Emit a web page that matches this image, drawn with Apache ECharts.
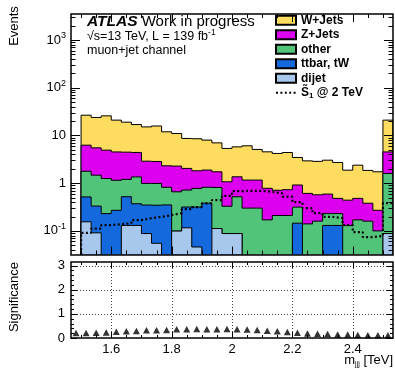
<!DOCTYPE html>
<html>
<head>
<meta charset="utf-8">
<script src="https://cdn.jsdelivr.net/npm/echarts@6/dist/echarts.min.js"></script>
<style>
  html, body { margin: 0; padding: 0; background: #fff; }
  #chart { width: 395px; height: 368px; }
</style>
</head>
<body>
<div id="chart"></div>
<script>
// Binning of the trijet invariant mass, m_jjj [TeV]
const X_MIN = 1.6 - 4 / 30;
const BIN_W = 1 / 30;
const N_BINS = 32;
const X_MAX = X_MIN + N_BINS * BIN_W;

// Events axis range (log)
const Y_MIN = 0.032;
const Y_MAX = 3500;

// Background yields per bin
const wjets = [0, 20.3, 18.3, 20.8, 16.4, 14.5, 12.5, 12.2, 12.9, 9.6, 8.7, 6.6, 6.7, 6.1, 5.25, 4.27,
               4.4, 4.9, 3.93, 3.75, 3.48, 3.66, 2.54, 2.32, 2.29, 2.44, 2.23, 1.43, 1.9, 1.47, 1.46, 16.4];
const zjets = [0, 4.47, 4.02, 3.66, 3.36, 3.26, 3.05, 1.9, 1.86, 1.49, 1.62, 1.32, 1.04, 1.06, 0.92, 0.74,
               0.84, 0.86, 0.86, 0.61, 0.5, 0.52, 0.6, 0.47, 0.41, 0.36, 0.25, 0.31, 0.31, 0.22, 0.17, 2.92];
const other = [0, 1.26, 1.14, 1.02, 0.88, 0.68, 0.98, 0.64, 0.64, 0.47, 0.56, 0.4, 0.46, 0.44, 0.7, 0.24,
               0.43, 0.3, 0.3, 0.17, 0.21, 0.21, 0.17, 0.14, 0.16, 0.1, 0.1, 0.13, 0.17, 0.16, 0.1, 1.51];
const ttbar = [0, 0.36, 0.24, 0.23, 0.27, 0.39, 0.24, 0.26, 0.29, 0.35, 0, 0.2, 0.27, 0.38, 0, 0,
               0, 0, 0, 0, 0, 0, 0.145, 0, 0, 0.13, 0.13, 0, 0, 0, 0, 0];
const dijet = [0, 0.155, 0.091, 0, 0, 0.13, 0.13, 0.088, 0.055, 0, 0.099, 0.116, 0.046, 0, 0.112, 0.088,
               0.088, 0, 0, 0, 0, 0, 0, 0, 0, 0, 0, 0, 0, 0, 0, 0.088];

// Signal S1 at 2 TeV
const signal = [0, 0.091, 0.112, 0.132, 0.138, 0.145, 0.168, 0.185, 0.197, 0.214, 0.235, 0.285, 0.314, 0.376, 0.44, 0.54,
                0.68, 0.69, 0.69, 0.66, 0.61, 0.52, 0.4, 0.3, 0.235, 0.197, 0.185, 0.132, 0.094, 0.074, 0.078, 0.38];

// Expected significance per bin
const significance = [0.21, 0.21, 0.22, 0.23, 0.26, 0.28, 0.29, 0.32, 0.32, 0.33, 0.36, 0.36, 0.37, 0.36, 0.36, 0.37,
                      0.36, 0.35, 0.33, 0.30, 0.28, 0.25, 0.22, 0.19, 0.18, 0.17, 0.15, 0.14, 0.12, 0.11, 0.11, 0.11];

// Axis tick values
const xMajorTicks = [1.6, 1.8, 2.0, 2.2, 2.4];
const xMinorTicks = [1.5, 1.55, 1.65, 1.7, 1.75, 1.85, 1.9, 1.95, 2.05, 2.1, 2.15, 2.25, 2.3, 2.35, 2.45, 2.5];
const yMainMajor = [0.1, 1, 10, 100, 1000];
const yMainMinor = [0.04, 0.05, 0.06, 0.07, 0.08, 0.09, 0.2, 0.3, 0.4, 0.5, 0.6, 0.7, 0.8, 0.9,
                    2, 3, 4, 5, 6, 7, 8, 9, 20, 30, 40, 50, 60, 70, 80, 90,
                    200, 300, 400, 500, 600, 700, 800, 900, 2000, 3000];
const sigMajor = [0, 1, 2, 3];
const sigMinor = [0.2, 0.4, 0.6, 0.8, 1.2, 1.4, 1.6, 1.8, 2.2, 2.4, 2.6, 2.8];
const SIG_MAX = 3.15;

const FONT = "'Liberation Sans', Arial, Helvetica, sans-serif";

const edge = i => X_MIN + i * BIN_W;
const center = i => X_MIN + (i + 0.5) * BIN_W;

// Stacked cumulative sums, bottom to top: dijet, ttbar, other, Z, W
const stackDefs = [
  { name: 'dijet', vals: dijet, color: '#a7c7ec' },
  { name: 'ttbar, tW', vals: ttbar, color: '#1469dc' },
  { name: 'other', vals: other, color: '#52c47a' },
  { name: 'Z+Jets', vals: zjets, color: '#dc00ee' },
  { name: 'W+Jets', vals: wjets, color: '#fedc5f' }
];
let running = new Array(N_BINS).fill(0);
stackDefs.forEach(d => {
  running = running.map((r, i) => r + d.vals[i]);
  d.cum = running.slice();
});

const crisp = v => Math.round(v) + 0.5;

// Filled step histogram with a black outline, drawn from the axis floor up to the cumulative sum
function stepHistogram(cum, color) {
  return function (params, api) {
    const floor = Y_MIN / 100;
    const pts = [api.coord([X_MIN, floor])];
    for (let i = 0; i < N_BINS; i++) {
      const v = cum[i] > 0 ? cum[i] : floor;
      pts.push(api.coord([edge(i), v]));
      pts.push(api.coord([edge(i + 1), v]));
    }
    pts.push(api.coord([X_MAX, floor]));
    return {
      type: 'polygon',
      shape: { points: pts },
      style: { fill: color, stroke: '#000', lineWidth: 1 }
    };
  };
}

// Frame with inward ticks on all four sides (plus optional dotted grid)
function frame(cfg) {
  return function (params, api) {
    const cs = params.coordSys;
    const x0 = cs.x, x1 = cs.x + cs.width, y0 = cs.y, y1 = cs.y + cs.height;
    const kids = [];
    const seg = (ax, ay, bx, by, st) => kids.push({
      type: 'line', shape: { x1: ax, y1: ay, x2: bx, y2: by },
      style: st || { stroke: '#000', lineWidth: 1 }
    });
    if (cfg.grid) {
      const gs = { stroke: '#444', lineWidth: 1, lineDash: [1, 2] };
      cfg.xGrid.forEach(v => { const px = crisp(api.coord([v, cfg.yRef])[0]); seg(px, y0, px, y1, gs); });
      cfg.yGrid.forEach(v => { const py = crisp(api.coord([X_MIN, v])[1]); seg(x0, py, x1, py, gs); });
    }
    cfg.xTicks.forEach(([list, len]) => list.forEach(v => {
      const px = crisp(api.coord([v, cfg.yRef])[0]);
      seg(px, y1, px, y1 - len);
      seg(px, y0, px, y0 + len);
    }));
    cfg.yTicks.forEach(([list, len]) => list.forEach(v => {
      const py = crisp(api.coord([X_MIN, v])[1]);
      seg(x0, py, x0 + len, py);
      seg(x1, py, x1 - len, py);
    }));
    kids.push({
      type: 'rect',
      shape: { x: Math.round(x0), y: Math.round(y0), width: Math.round(cs.width), height: Math.round(cs.height) },
      style: { fill: 'none', stroke: '#000', lineWidth: 1.5 }
    });
    return { type: 'group', children: kids };
  };
}

// Signal as a dotted step line
const signalPts = [];
for (let i = 0; i < N_BINS; i++) {
  const v = signal[i] > 0 ? signal[i] : Y_MIN / 100;
  signalPts.push([edge(i), v], [edge(i + 1), v]);
}

const stackSeries = stackDefs.slice().reverse().map(d => ({
  name: d.name,
  type: 'custom',
  xAxisIndex: 0, yAxisIndex: 0,
  clip: true,
  z: 2,
  itemStyle: { color: d.color, borderColor: '#000', borderWidth: 1 },
  data: [[X_MIN, 1]],
  renderItem: stepHistogram(d.cum, d.color),
  silent: true
}));

const chart = echarts.init(document.getElementById('chart'), null, { renderer: 'canvas' });

chart.setOption({
  animation: false,
  textStyle: { fontFamily: FONT, color: '#000' },
  grid: [
    { left: 71, right: 2, top: 14, bottom: 113.5 },
    { left: 71, right: 2, top: 262, bottom: 30 }
  ],
  xAxis: [
    {
      gridIndex: 0, type: 'value', min: X_MIN, max: X_MAX,
      axisLine: { show: false }, axisTick: { show: false }, splitLine: { show: false },
      axisLabel: { show: false }
    },
    {
      gridIndex: 1, type: 'value', min: X_MIN, max: X_MAX,
      axisLine: { show: false }, axisTick: { show: false }, splitLine: { show: false },
      axisLabel: {
        customValues: xMajorTicks, margin: 5, fontSize: 13, color: '#000', fontFamily: FONT,
        formatter: v => String(Math.round(v * 10) / 10)
      }
    }
  ],
  yAxis: [
    {
      gridIndex: 0, type: 'log', logBase: 10, min: Y_MIN, max: Y_MAX,
      axisLine: { show: false }, axisTick: { show: false }, splitLine: { show: false },
      axisLabel: {
        margin: 5, color: '#000', fontFamily: FONT, interval: 0,
        formatter: v => {
          const l = Math.log10(v);
          const e = Math.round(l);
          if (Math.abs(l - e) > 1e-6) return '';
          if (e === 0) return '{b|1}';
          if (e === 1) return '{b|10}';
          return '{b|10}{s|' + e + '}';
        },
        rich: {
          b: { fontSize: 13, fontFamily: FONT, color: '#000' },
          s: { fontSize: 9, fontFamily: FONT, color: '#000', padding: [0, 0, 9, 0] }
        }
      }
    },
    {
      gridIndex: 1, type: 'value', min: 0, max: SIG_MAX,
      axisLine: { show: false }, axisTick: { show: false }, splitLine: { show: false },
      axisLabel: { customValues: sigMajor, margin: 6, fontSize: 13, color: '#000', fontFamily: FONT }
    }
  ],
  legend: {
    orient: 'vertical', left: 275, top: 14, padding: 0,
    itemWidth: 20, itemHeight: 9, itemGap: 2,
    selectedMode: false,
    textStyle: { fontSize: 12, fontWeight: 'bold', fontFamily: FONT, color: '#000', lineHeight: 12.5,
      rich: {
        b: { fontSize: 12, fontWeight: 'bold', fontFamily: FONT, color: '#000', lineHeight: 12.5 },
        sub: { fontSize: 8, fontWeight: 'bold', fontFamily: FONT, color: '#000', padding: [6, 0, 0, 0] }
      }
    },
    formatter: name => name === 'signal' ? '{b|S\u0303}{sub|1}{b| @ 2 TeV}' : name,
    data: [
      { name: 'W+Jets', icon: 'rect' },
      { name: 'Z+Jets', icon: 'rect' },
      { name: 'other', icon: 'rect' },
      { name: 'ttbar, tW', icon: 'rect' },
      { name: 'dijet', icon: 'rect' },
      { name: 'signal', itemStyle: { opacity: 0 } }
    ]
  },
  series: [
    ...stackSeries,
    {
      name: 'signal',
      type: 'line',
      xAxisIndex: 0, yAxisIndex: 0,
      data: signalPts,
      symbol: 'none',
      clip: true,
      z: 3,
      lineStyle: { color: '#000', width: 2.2, type: [2, 2.4], cap: 'butt' },
      itemStyle: { color: '#000' },
      silent: true
    },
    {
      name: 'frameMain',
      type: 'custom',
      xAxisIndex: 0, yAxisIndex: 0,
      clip: false, z: 5, silent: true,
      data: [[X_MIN, 1]],
      renderItem: frame({
        yRef: 1,
        xTicks: [[xMajorTicks, 8], [xMinorTicks, 4]],
        yTicks: [[yMainMajor, 9], [yMainMinor, 4.5]]
      })
    },
    {
      name: 'frameSig',
      type: 'custom',
      xAxisIndex: 1, yAxisIndex: 1,
      clip: false, z: 1, silent: true,
      data: [[X_MIN, 0]],
      renderItem: frame({
        yRef: 0, grid: true, xGrid: xMajorTicks, yGrid: [1, 2, 3],
        xTicks: [[xMajorTicks, 6], [xMinorTicks, 3]],
        yTicks: [[sigMajor, 6], [sigMinor, 3]]
      })
    },
    {
      name: 'significance',
      type: 'scatter',
      xAxisIndex: 1, yAxisIndex: 1,
      symbol: 'triangle', symbolSize: [7, 6.5],
      itemStyle: { color: '#000' },
      z: 3, silent: true,
      data: significance.map((v, i) => [center(i), v])
    }
  ],
  graphic: [
    {
      type: 'text', x: 87, y: 22,
      style: {
        text: '{a|ATLAS}{w| Work in progress}',
        verticalAlign: 'middle',
        rich: {
          a: { fontSize: 15.5, fontWeight: 'bold', fontStyle: 'italic', fontFamily: FONT, fill: '#000' },
          w: { fontSize: 15, fontFamily: FONT, fill: '#000' }
        }
      }
    },
    {
      type: 'text', x: 87, y: 37,
      style: {
        text: '{t|\u221As=13 TeV, L = 139 fb}{s|-1}',
        verticalAlign: 'middle',
        rich: {
          t: { fontSize: 12.5, fontFamily: FONT, fill: '#000' },
          s: { fontSize: 8.5, fontFamily: FONT, fill: '#000', padding: [0, 0, 8, 0] }
        }
      }
    },
    {
      type: 'text', x: 87, y: 51,
      style: { text: 'muon+jet channel', fontSize: 12.5, fontFamily: FONT, fill: '#000', verticalAlign: 'middle' }
    },
    {
      type: 'text', x: 14, y: 26, rotation: Math.PI / 2,
      style: { text: 'Events', fontSize: 13, fontFamily: FONT, fill: '#000', align: 'center', verticalAlign: 'middle' }
    },
    {
      type: 'text', x: 14, y: 297, rotation: Math.PI / 2,
      style: { text: 'Significance', fontSize: 13, fontFamily: FONT, fill: '#000', align: 'center', verticalAlign: 'middle' }
    },
    {
      type: 'text', x: 393, y: 360,
      style: {
        text: '{m|m}{j|jjj}{m| [TeV]}',
        align: 'right', verticalAlign: 'middle',
        rich: {
          m: { fontSize: 13, fontFamily: FONT, fill: '#000' },
          j: { fontSize: 7, fontFamily: FONT, fill: '#000', padding: [8, 0, 0, 0] }
        }
      }
    }
  ]
});
</script>
</body>
</html>
